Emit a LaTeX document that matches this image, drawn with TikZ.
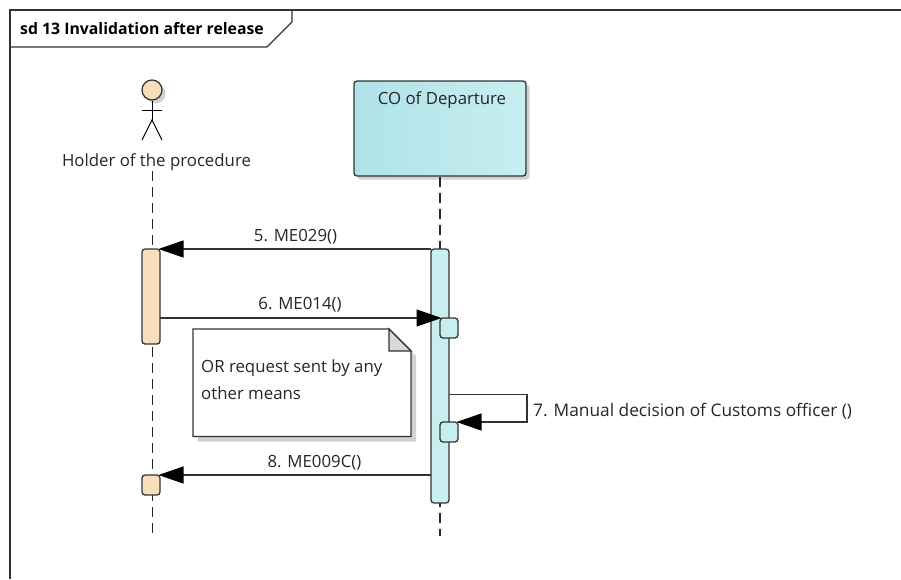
\documentclass[tikz,border=0pt]{standalone}
\usepackage{fontspec}
\setmainfont{Open Sans}
\usetikzlibrary{arrows.meta,shadows}
\definecolor{lineGrey}{HTML}{333333}
\definecolor{peach}{HTML}{F8DFBC}
\definecolor{paleCyan}{HTML}{C8EEF0}
\definecolor{deepCyan}{HTML}{AEE3E8}
\tikzset{
	msgtip/.style={-{Triangle[length=25pt,width=17pt,black]}},
	msg/.style={draw=lineGrey,line width=1.25pt,msgtip,shorten >=-1.5pt},
	lifeline/.style={draw=black!85,line width=1.2pt,dash pattern=on 10pt off 6pt},
	softshadow/.style={drop shadow={shadow xshift=3.5pt,shadow yshift=-3.5pt,fill=black!18,opacity=1}},
	activation/.style={draw=lineGrey,line width=1.3pt,rounded corners=3pt,inner sep=0pt,outer sep=0pt,anchor=north west},
	msglabel/.style={font=\fontsize{16.8}{20}\selectfont,text=black!85,inner sep=0pt}
}
\begin{document}
\begin{tikzpicture}[x=1pt,y=-1pt]
	\useasboundingbox (0,0) rectangle (901,579);
	% frame
	\coordinate (frameTop) at (901,10);
	\coordinate (frameLeftTop) at (10,10);
	\coordinate (frameBottom) at (10,579);
	\coordinate (tabLeft) at (10,47);
	\coordinate (tabCut) at (267,47);
	\coordinate (tabSide) at (292,22);
	\coordinate (tabTop) at (292,10);
	\draw [draw=lineGrey,line width=1.25pt] (frameBottom) -- (frameLeftTop) -- (frameTop);
	\draw [draw=lineGrey,line width=1.25pt] (tabLeft) -- (tabCut) -- (tabSide) -- (tabTop);
	\node (frameTitle) [anchor=west,inner sep=0pt,font=\fontsize{15.8}{19}\selectfont\bfseries] at (20,28.5) {sd 13 Invalidation after release};
	% holder
	\node (holderHead) [circle,draw=lineGrey,line width=1.2pt,fill=peach,minimum size=20pt,inner sep=0pt,softshadow] at (152,90) {};
	\coordinate (holderHip) at (152,120);
	\coordinate (holderArmL) at (142,110);
	\coordinate (holderArmR) at (162,110);
	\coordinate (holderLegL) at (142,140);
	\coordinate (holderLegR) at (162,140);
	\draw [line width=1pt] (holderHead.south) -- (holderHip);
	\draw [line width=1pt] (holderArmL) -- (holderArmR);
	\draw [line width=1pt] (holderLegL) -- (holderHip) -- (holderLegR);
	\node (holderLabel) [msglabel] at (156.5,162) {Holder of the procedure};
	% departure box
	\node (boxCO) [draw=lineGrey,line width=1.3pt,rounded corners=3pt,left color=deepCyan,right color=paleCyan,minimum width=172pt,minimum height=95pt,inner sep=0pt,softshadow] at (440,128.5) {};
	\node (boxCOLabel) [msglabel] at (442,100.5) {CO of Departure};
	% lifelines
	\coordinate (holderEnd) at (152.5,534);
	\coordinate (coEnd) at (440,536);
	\draw [lifeline] (holderLabel.south -| holderEnd) -- (holderEnd);
	\draw [lifeline] (boxCO.south) -- (coEnd);
	% activations
	\node (actHolderA) [activation,fill=peach,minimum width=18pt,minimum height=95pt] at (142,249) {};
	\node (actHolderB) [activation,fill=peach,minimum width=18pt,minimum height=20pt] at (142,475) {};
	\node (actCO) [activation,fill=paleCyan,minimum width=18pt,minimum height=254pt] at (431,249) {};
	\node (actCOB) [activation,fill=paleCyan,minimum width=18pt,minimum height=20pt] at (440,318) {};
	\node (actCOC) [activation,fill=paleCyan,minimum width=18pt,minimum height=20pt] at (440,422) {};
	% note
	\coordinate (noteA) at (193,329);
	\coordinate (noteB) at (389,329);
	\coordinate (noteC) at (411,351);
	\coordinate (noteD) at (411,436.5);
	\coordinate (noteE) at (193,436.5);
	\coordinate (noteF) at (389,351);
	\fill [black!18] (198,436.5) -- (198,441.5) -- (416,441.5) -- (416,356) -- (411,351) -- cycle;
	\draw [draw=lineGrey,line width=1.25pt,fill=white] (noteA) -- (noteB) -- (noteC) -- (noteD) -- (noteE) -- cycle;
	\draw [draw=lineGrey,line width=1.25pt,fill=black!15] (noteB) -- (noteF) -- (noteC) -- cycle;
	\node (noteLineA) [msglabel,anchor=west] at (201,368) {OR request sent by any};
	\node (noteLineB) [msglabel,anchor=west] at (201,393.5) {other means};
	% messages
	\draw [msg] (actCO.north west) -- (actHolderA.north east) node (msgFive) [midway,above=4pt,msglabel] {5. ME029()};
	\draw [msg] (actHolderA.east |- actCOB.north) -- (actCOB.north west) node (msgSix) [midway,above=5pt,msglabel] {6. ME014()};
	\coordinate (selfStart) at (449,394.5);
	\coordinate (selfTurn) at (527,394.5);
	\draw [msg] (selfStart) -- (selfTurn) -- (selfTurn |- actCOC.north) -- (actCOC.north east);
	\node (msgSeven) [msglabel,anchor=west,font=\fontsize{17.3}{20}\selectfont] at (533,411) {7. Manual decision of Customs officer ()};
	\draw [msg] (actCO.west |- actHolderB.north) -- (actHolderB.north east) node (msgEight) [pos=0.43,above=4pt,msglabel] {8. ME009C()};
\end{tikzpicture}
\end{document}
